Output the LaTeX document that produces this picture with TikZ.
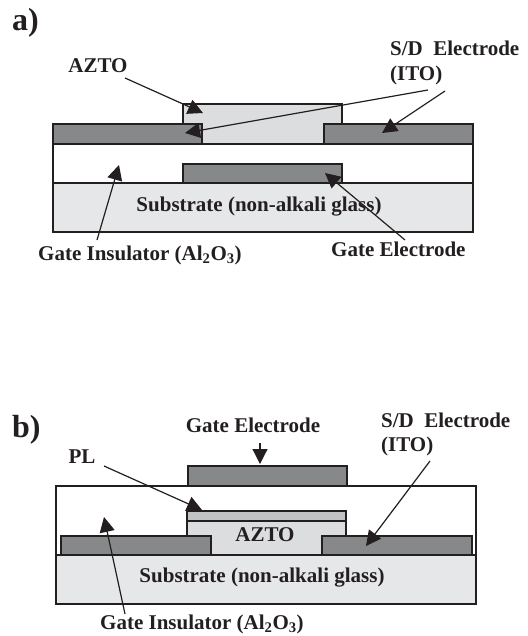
\documentclass[tikz,border=0pt]{standalone}
\usepackage{fontspec}
\setmainfont{Liberation Serif}
\usetikzlibrary{arrows.meta}
\definecolor{inkgray}{HTML}{231F20}
\definecolor{electrode}{HTML}{87888A}
\definecolor{glass}{HTML}{E6E7E8}
\definecolor{azto}{HTML}{DCDDDE}
\definecolor{passiv}{HTML}{C2C3C5}
\tikzset{
  layer/.style={draw=inkgray,line width=1.2pt},
  callout/.style={draw=inkgray,line width=1.2pt,-{Triangle[length=15pt,width=15pt]}},
  lbl/.style={font=\fontsize{21}{24}\selectfont\bfseries,text=inkgray,inner sep=0pt},
  panel/.style={font=\fontsize{32}{36}\selectfont\bfseries,text=inkgray,inner sep=0pt,anchor=west}
}
\begin{document}
\begin{tikzpicture}[x=1pt,y=-1pt]
  \useasboundingbox (0,0) rectangle (527,636);
  % panel a
  \node[panel] (pa) at (12,23) {a)};
  \draw[layer,fill=glass] (53,183) rectangle (473,232);
  \draw[layer,fill=white] (53,144) rectangle (473,183);
  \draw[layer,fill=azto] (183,104) rectangle (342,144);
  \draw[layer,fill=electrode] (53,124) rectangle (202,144);
  \draw[layer,fill=electrode] (324,124) rectangle (473,144);
  \draw[layer,fill=electrode] (183,164) rectangle (342,183);
  \node[lbl] (aAzto) at (98,66) {AZTO};
  \node[lbl,anchor=west] (aSd) at (390,48) {S/D\ \ Electrode};
  \node[lbl,anchor=west] (aIto) at (390,75) {(ITO)};
  \node[lbl] (aSub) at (259,207) {Substrate (non-alkali glass)};
  \node[lbl,anchor=west] (aIns) at (38,255) {Gate Insulator (Al\textsubscript{2}O\textsubscript{3})};
  \node[lbl,anchor=west] (aGate) at (331,249) {Gate Electrode};
  \coordinate (aAztoS) at (125,78);
  \coordinate (aAztoE) at (203,113);
  \coordinate (aSdS) at (428,90);
  \coordinate (aSdL) at (185,133);
  \coordinate (aSdT) at (445,91);
  \coordinate (aSdR) at (382,133);
  \coordinate (aInsS) at (97,240);
  \coordinate (aInsE) at (119,165);
  \coordinate (aGateS) at (405,240);
  \coordinate (aGateE) at (325,173);
  \draw[callout] (aAztoS) -- (aAztoE);
  \draw[callout] (aSdS) -- (aSdL);
  \draw[callout] (aSdT) -- (aSdR);
  \draw[callout] (aInsS) -- (aInsE);
  \draw[callout] (aGateS) -- (aGateE);
  % panel b
  \node[panel] (pb) at (12,430) {b)};
  \draw[layer,fill=glass] (56,555) rectangle (476,604);
  \draw[layer,fill=white] (56,486) rectangle (476,555);
  \draw[layer,fill=electrode] (188,466) rectangle (347,486);
  \draw[layer,fill=azto] (187,521) rectangle (346,555);
  \draw[layer,fill=passiv] (187,511) rectangle (346,521);
  \draw[layer,fill=electrode] (61,536) rectangle (211,555);
  \draw[layer,fill=electrode] (322,536) rectangle (472,555);
  \node[lbl] (bGate) at (253,425) {Gate Electrode};
  \node[lbl,anchor=west] (bSd) at (381,420) {S/D\ \ Electrode};
  \node[lbl,anchor=west] (bIto) at (381,446) {(ITO)};
  \node[lbl] (bPl) at (82,457) {PL};
  \node[lbl] (bAzto) at (265,535) {AZTO};
  \node[lbl] (bSub) at (262,578) {Substrate (non-alkali glass)};
  \node[lbl,anchor=west] (bIns) at (100,624) {Gate Insulator (Al\textsubscript{2}O\textsubscript{3})};
  \coordinate (bGateS) at (260,443);
  \coordinate (bGateE) at (260,464);
  \coordinate (bPlS) at (104,466);
  \coordinate (bPlE) at (202,510);
  \coordinate (bSdS) at (430,461);
  \coordinate (bSdE) at (366,546);
  \coordinate (bInsS) at (125,614);
  \coordinate (bInsE) at (104,517);
  \draw[callout] (bGateS) -- (bGateE);
  \draw[callout] (bPlS) -- (bPlE);
  \draw[callout] (bSdS) -- (bSdE);
  \draw[callout] (bInsS) -- (bInsE);
\end{tikzpicture}
\end{document}
